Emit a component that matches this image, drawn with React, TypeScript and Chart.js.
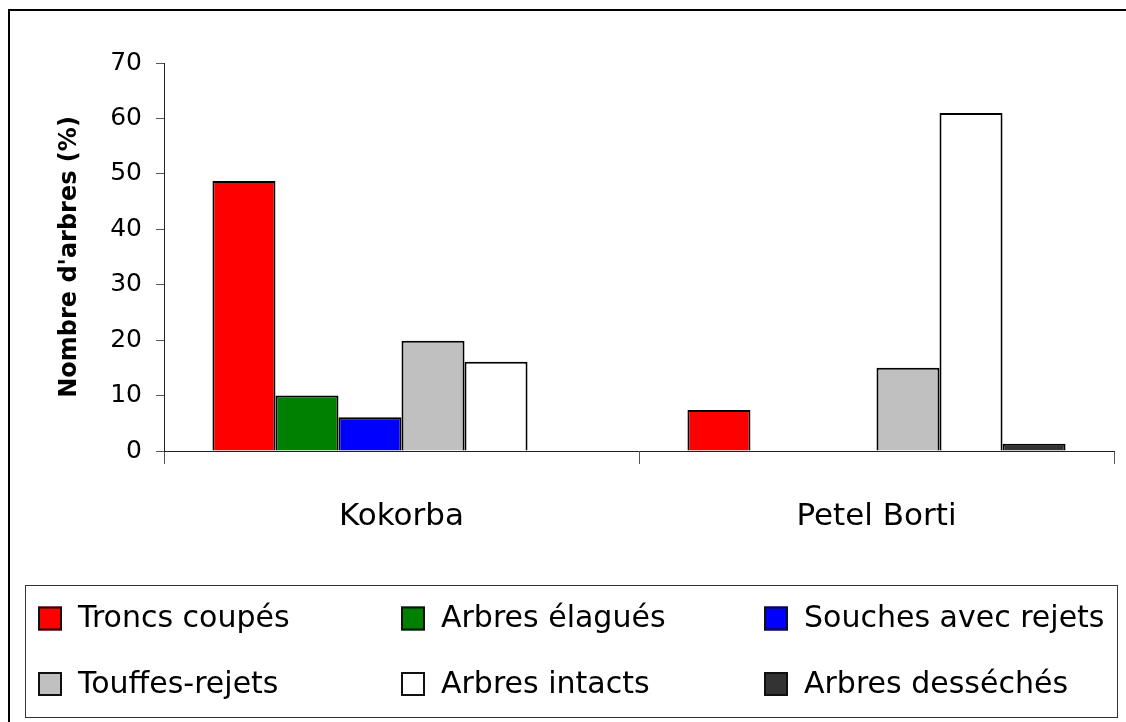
import React, { useEffect, useRef } from 'react';
import { Chart, registerables } from 'chart.js';

Chart.register(...registerables);

const categories = ['Kokorba', 'Petel Borti'];
const seriesNames = [
  'Troncs coupés',
  'Arbres élagués',
  'Souches avec rejets',
  'Touffes-rejets',
  'Arbres intacts',
  'Arbres desséchés',
];
const troncsCoupes = [48.7, 7.4];
const arbresElagues = [10, 0];
const souchesAvecRejets = [6.1, 0];
const touffesRejets = [19.9, 15];
const arbresIntacts = [16.1, 61];
const arbresDesseches = [0, 1.3];
const seriesColors = ['#FF0000', '#008000', '#0000FF', '#C0C0C0', '#FFFFFF', '#333333'];
const yMin = 0;
const yMax = 70;
const yStep = 10;

const FONT = '"DejaVu Sans", sans-serif';

const framePlugin = {
  id: 'frameAndLegend',
  afterDraw(chart: any) {
    const ctx = chart.ctx as CanvasRenderingContext2D;
    ctx.save();
    // outer frame
    ctx.strokeStyle = '#000';
    ctx.lineWidth = 2;
    ctx.strokeRect(9, 10, 1300, 900);
    // legend box
    ctx.lineWidth = 1;
    ctx.strokeStyle = '#333';
    ctx.strokeRect(25.5, 585.5, 1092, 132);
    const datasets = chart.data.datasets;
    ctx.font = `30px ${FONT}`;
    ctx.textBaseline = 'middle';
    ctx.textAlign = 'left';
    datasets.forEach((ds: any, i: number) => {
      const col = i % 3;
      const row = Math.floor(i / 3);
      const x = 38 + col * 363;
      const cy = 618.5 + row * 65.5;
      ctx.fillStyle = ds.backgroundColor;
      ctx.fillRect(x, cy - 12, 24, 24);
      ctx.lineWidth = 2;
      ctx.strokeStyle = '#111';
      ctx.strokeRect(x + 1, cy - 11, 22, 22);
      ctx.fillStyle = '#000';
      ctx.fillText(ds.label, x + 40, cy + 1);
    });
    ctx.restore();
  },
};

export default function App() {
  const ref = useRef<HTMLCanvasElement | null>(null);
  useEffect(() => {
    if (!ref.current) return;
    const values = [
      troncsCoupes,
      arbresElagues,
      souchesAvecRejets,
      touffesRejets,
      arbresIntacts,
      arbresDesseches,
    ];
    const chart = new Chart(ref.current, {
      type: 'bar',
      data: {
        labels: categories,
        datasets: values.map((v, i) => ({
          label: seriesNames[i],
          data: v,
          backgroundColor: seriesColors[i],
          borderColor: '#000',
          borderWidth: 2,
          barPercentage: 1,
          categoryPercentage: 0.796,
        })),
      },
      options: {
        animation: false,
        responsive: false,
        devicePixelRatio: 1,
        layout: { padding: { top: 63, right: 12, left: 0, bottom: 0 } },
        plugins: {
          legend: { display: false },
          tooltip: { enabled: false },
          title: { display: false },
        },
        scales: {
          x: {
            afterFit: (s: any) => {
              s.height = 271;
            },
            grid: {
              drawOnChartArea: false,
              drawTicks: true,
              tickLength: 13,
              tickColor: '#555',
              offset: true,
            },
            border: { color: '#222', width: 1 },
            ticks: {
              color: '#000',
              font: { family: FONT, size: 31 },
              padding: 34,
            },
          },
          y: {
            min: yMin,
            max: yMax,
            afterFit: (s: any) => {
              s.width = 164;
            },
            grid: {
              drawOnChartArea: false,
              tickLength: 8,
              tickColor: '#555',
            },
            border: { color: '#222', width: 1 },
            ticks: {
              stepSize: yStep,
              color: '#000',
              font: { family: FONT, size: 25 },
              padding: 14,
            },
            title: {
              display: true,
              text: "Nombre d'arbres (%)",
              color: '#000',
              font: { family: FONT, size: 24, weight: 'bold' },
              padding: { top: 55, bottom: 0 },
            },
          },
        },
      },
      plugins: [framePlugin],
    });
    return () => chart.destroy();
  }, []);
  return (
    <div style={{ position: 'absolute', left: 0, top: 0, width: 1126, height: 722, background: '#fff' }}>
      <canvas ref={ref} width={1126} height={722} style={{ display: 'block' }} />
    </div>
  );
}
